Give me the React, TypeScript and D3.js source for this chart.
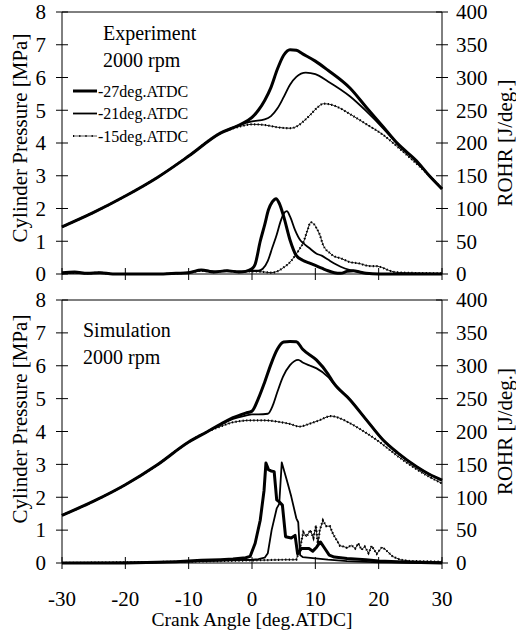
import React from 'react';
import * as d3 from 'd3';

type Pt = [number, number];

// ---- tick values / labels ----
const xTicks = [-30, -20, -10, 0, 10, 20, 30];
const pTicks = [0, 1, 2, 3, 4, 5, 6, 7, 8];
const rTicks = [0, 50, 100, 150, 200, 250, 300, 350, 400];
const legendLabels = ['-27deg.ATDC', '-21deg.ATDC', '-15deg.ATDC'];
const panelTitles = [['Experiment', '2000 rpm'], ['Simulation', '2000 rpm']];
const xTitle = 'Crank Angle [deg.ATDC]';
const yLeftTitle = 'Cylinder Pressure [MPa]';
const yRightTitle = 'ROHR [J/deg.]';

// ---- Experiment: cylinder pressure [MPa] ----
const expComp: Pt[] = [[-30, 1.44], [-25, 1.88], [-20, 2.38], [-15, 2.94], [-10, 3.6], [-5, 4.3], [-2, 4.55]];
const expP27: Pt[] = [...expComp, [0, 4.78], [1, 5.0], [2, 5.3], [3, 5.7], [4, 6.25], [5, 6.68], [6, 6.85], [7, 6.83], [8, 6.72], [10, 6.5], [12, 6.22], [15.5, 5.67], [18, 5.1], [20.7, 4.5], [23, 3.98], [26, 3.45], [28, 3.0], [30, 2.6]];
const expP21: Pt[] = [...expComp, [0, 4.66], [2, 4.72], [3, 4.82], [4, 5.05], [5, 5.4], [6, 5.78], [7, 6.02], [8.5, 6.15], [10, 6.1], [12, 5.88], [15.5, 5.42], [18, 4.98], [20.7, 4.45], [23, 3.96], [26, 3.43], [28, 3.0], [30, 2.6]];
const expP15: Pt[] = [...expComp.slice(0, 6), [-2, 4.5], [0, 4.57], [2, 4.55], [4, 4.48], [6, 4.45], [7, 4.5], [8, 4.64], [9.2, 4.86], [10.3, 5.08], [11.3, 5.2], [12.3, 5.18], [13.5, 5.1], [15.5, 4.88], [18, 4.58], [20.7, 4.25], [23, 3.88], [25, 3.54], [28, 3.0], [30, 2.6]];

// ---- Experiment: ROHR [J/deg] ----
const expR27: Pt[] = [[-30, 2], [-28, 3], [-26, 1], [-24, 2], [-22, 0], [-14, 0], [-12, 1], [-10, 2], [-8, 6], [-6, 3], [-4, 5], [-2, 3], [-1, 4], [0, 8], [0.5, 15], [1.3, 50], [2, 75], [2.6, 98], [3.2, 110], [3.8, 115], [4.3, 108], [5, 88], [6, 52], [7, 28], [8, 21], [9, 17], [10, 13], [11, 9], [12, 5], [13, 2], [14, 1], [15, 4], [16, 5], [17, 3], [18, 1], [20, 0], [30, 0]];
const expR21: Pt[] = [[-30, 1], [-28, 2], [-26, 1], [-24, 2], [-22, 0], [-14, 0], [-12, 1], [-10, 2], [-8, 6], [-6, 4], [-4, 5], [-2, 4], [0, 5], [1, 5], [1.7, 8], [2.5, 20], [3.2, 40], [3.9, 60], [4.5, 80], [5, 92], [5.5, 96], [6, 88], [6.8, 67], [7.6, 52], [8.1, 47], [9, 40], [10.2, 31], [11, 28], [12, 22], [13, 16], [14, 11], [15.5, 6], [17, 3], [18, 1], [20, 0], [30, 0]];
const expR15: Pt[] = [[-30, 1], [-28, 2], [-26, 1], [-24, 2], [-22, 0], [-14, 0], [-12, 1], [-10, 2], [-8, 5], [-6, 3], [-4, 5], [-2, 3], [0, 4], [2, 3], [3, 2], [4, 4], [5, 10], [6, 18], [6.5, 24], [7.5, 38], [8.1, 48], [8.7, 65], [9.3, 79], [9.8, 76], [10.3, 68], [10.7, 60], [11.2, 45], [11.7, 37], [12.3, 32], [12.8, 28], [14, 24], [15.5, 18], [17, 16], [18, 13], [19, 12], [19.7, 12], [20.5, 10], [21.5, 6], [22.5, 3], [24, 2], [30, 1]];

// ---- Simulation: cylinder pressure [MPa] ----
const simComp: Pt[] = [[-30, 1.45], [-25, 1.88], [-20, 2.38], [-15, 2.98], [-10, 3.68], [-7, 4.0]];
const simTail: Pt[] = [[15.5, 4.96], [18, 4.37], [20.7, 3.74], [23, 3.35], [26, 2.93], [28, 2.7], [30, 2.52]];
const simP27: Pt[] = [...simComp, [-5, 4.22], [-3, 4.42], [-1, 4.56], [0, 4.62], [1, 5.0], [2, 5.5], [3, 6.05], [4, 6.5], [5, 6.72], [6, 6.74], [7, 6.73], [8, 6.5], [10.2, 6.17], [12, 5.75], [12.8, 5.5], ...simTail];
const simP21: Pt[] = [...simComp, [-5, 4.2], [-3, 4.38], [-1, 4.48], [0, 4.52], [1, 4.52], [2.5, 4.54], [3.3, 4.8], [4, 5.2], [4.9, 5.67], [6, 6.02], [7.3, 6.18], [8, 6.1], [9.2, 6.0], [10.2, 5.92], [12, 5.66], [12.8, 5.48], ...simTail];
const simP15: Pt[] = [...simComp, [-5, 4.15], [-3, 4.28], [0, 4.34], [2, 4.34], [4, 4.3], [6, 4.23], [7.5, 4.15], [9, 4.23], [10.5, 4.33], [12.5, 4.47], [13.5, 4.43], [15, 4.3], [17, 4.08], [20, 3.7], [23, 3.25], [26, 2.85], [28, 2.62], [30, 2.42]];

// ---- Simulation: ROHR [J/deg] ----
const simR27: Pt[] = [[-30, 0], [-20, 0], [-15, 1], [-12, 2], [-10, 3], [-8, 4], [-5, 5], [-3, 6], [-1, 8], [-0.3, 10], [0.5, 30], [1.3, 65], [1.9, 110], [2.2, 152], [2.6, 142], [3.0, 140], [3.5, 139], [3.9, 96], [4.3, 93], [4.8, 88], [5.3, 40], [6.2, 38], [6.8, 42], [7.2, 14], [7.8, 22], [9, 22], [9.6, 18], [10.2, 24], [10.8, 32], [11.5, 22], [12.2, 12], [13, 9], [15, 7], [18, 5], [20, 3], [25, 1], [30, 0]];
const simR21: Pt[] = [[-30, 0], [-15, 1], [-10, 2], [-5, 4], [0, 5], [1, 6], [2, 8], [2.5, 15], [3.1, 50], [3.9, 83], [4.3, 90], [4.7, 153], [5.5, 126], [6.2, 101], [7.0, 68], [7.3, 62], [7.6, 12], [8, 9], [10, 7], [12, 5], [15, 3], [20, 1], [30, 0]];
const simR15: Pt[] = [[-30, 0], [-10, 2], [0, 4], [5, 5], [7, 5], [7.6, 23], [8.1, 47], [8.6, 40], [9.2, 50], [9.7, 38], [10.1, 57], [10.4, 27], [10.7, 50], [11.2, 65], [11.7, 56], [12.3, 56], [12.8, 44], [13.3, 36], [13.9, 26], [14.5, 25], [15, 23], [15.7, 27], [16.3, 22], [16.8, 30], [17.3, 20], [17.8, 25], [18.4, 15], [18.9, 26], [19.7, 14], [20.5, 24], [21, 21], [22.2, 10], [23.4, 5], [25, 3], [30, 2]];

const W = 516;
const H = 633;
const FONT = '"Liberation Serif", "Times New Roman", Tinos, serif';
const x = d3.scaleLinear().domain([-30, 30]).range([62, 442]);

type Panel = {
  top: number;
  bottom: number;
  p: Pt[][];
  r: Pt[][];
  smoothR: boolean;
  titles: string[];
  titleX: number;
  titleY: number[];
  showLegend: boolean;
  showXLabels: boolean;
  leftTitleY: number;
};

const panels: Panel[] = [
  { top: 12, bottom: 274, p: [expP27, expP21, expP15], r: [expR27, expR21, expR15], smoothR: true, titles: panelTitles[0], titleX: 103, titleY: [40, 67], showLegend: true, showXLabels: false, leftTitleY: 138 },
  { top: 300, bottom: 563, p: [simP27, simP21, simP15], r: [simR27, simR21, simR15], smoothR: false, titles: panelTitles[1], titleX: 83, titleY: [337, 364], showLegend: false, showXLabels: true, leftTitleY: 419 },
];

const widths = [3, 1.8, 0.9];

function SeriesPath({ d, idx }: { d: string; idx: number }) {
  if (idx < 2) {
    return <path d={d} fill="none" stroke="#000" strokeWidth={widths[idx]} strokeLinejoin="round" />;
  }
  return (
    <g>
      <path d={d} fill="none" stroke="#000" strokeWidth={0.9} />
      <path d={d} fill="none" stroke="#000" strokeWidth={2.2} strokeDasharray="1.2 2.4" />
    </g>
  );
}

function PanelView({ pn }: { pn: Panel }) {
  const yP = d3.scaleLinear().domain([0, 8]).range([pn.bottom, pn.top]);
  const yR = d3.scaleLinear().domain([0, 400]).range([pn.bottom, pn.top]);
  const lineP = d3.line<Pt>().x(d => x(d[0])).y(d => yP(d[1])).curve(d3.curveMonotoneX);
  const lineR = d3.line<Pt>().x(d => x(d[0])).y(d => yR(d[1])).curve(pn.smoothR ? d3.curveMonotoneX : d3.curveLinear);
  const cy = (pn.top + pn.bottom) / 2;
  return (
    <g>
      <line x1={x(-30)} x2={x(30)} y1={pn.top} y2={pn.top} stroke="#000" strokeWidth={1} />
      <line x1={x(-30)} x2={x(-30)} y1={pn.top} y2={pn.bottom} stroke="#000" strokeWidth={1} />
      <line x1={x(30)} x2={x(30)} y1={pn.top} y2={pn.bottom} stroke="#000" strokeWidth={1} />
      <line x1={x(-30)} x2={x(30)} y1={pn.bottom} y2={pn.bottom} stroke="#000" strokeWidth={1} />
      {pTicks.map(t => (
        <g key={'pl' + t}>
          <line x1={x(-30) - 6} x2={x(-30) + 6} y1={yP(t)} y2={yP(t)} stroke="#000" strokeWidth={1} />
          <text x={46} y={yP(t)} dy="0.35em" textAnchor="end" fontSize={21}>{t}</text>
        </g>
      ))}
      {rTicks.map(t => (
        <g key={'rr' + t}>
          <line x1={x(30) - 6} x2={x(30) + 6} y1={yR(t)} y2={yR(t)} stroke="#000" strokeWidth={1} />
          <text x={456} y={yR(t)} dy="0.35em" textAnchor="start" fontSize={21}>{t}</text>
        </g>
      ))}
      {xTicks.map(t => (
        <g key={'x' + t}>
          <line x1={x(t)} x2={x(t)} y1={pn.bottom - 6} y2={pn.bottom + 6} stroke="#000" strokeWidth={1} />
          {pn.showXLabels && (
            <text x={x(t)} y={606} textAnchor="middle" fontSize={21}>{t}</text>
          )}
        </g>
      ))}
      {pn.p.map((s, i) => <SeriesPath key={'p' + i} d={lineP(s) || ''} idx={i} />)}
      {pn.r.map((s, i) => <SeriesPath key={'r' + i} d={lineR(s) || ''} idx={i} />)}
      {pn.titles.map((t, i) => (
        <text key={'t' + i} x={pn.titleX} y={pn.titleY[i]} fontSize={20}>{t}</text>
      ))}
      <text transform={`translate(27,${pn.leftTitleY}) rotate(-90)`} textAnchor="middle" fontSize={21}>{yLeftTitle}</text>
      <text transform={`translate(512,${cy}) rotate(-90)`} textAnchor="middle" fontSize={21}>{yRightTitle}</text>
      {pn.showLegend && legendLabels.map((l, i) => {
        const ly = 91 + i * 22.5;
        return (
          <g key={'lg' + i}>
            {i < 2 ? (
              <line x1={73} x2={97} y1={ly} y2={ly} stroke="#000" strokeWidth={widths[i]} />
            ) : (
              <g>
                <line x1={73} x2={97} y1={ly} y2={ly} stroke="#555" strokeWidth={1} />
                <line x1={73} x2={97} y1={ly} y2={ly} stroke="#000" strokeWidth={2.2} strokeDasharray="1.2 5" />
              </g>
            )}
            <text x={98} y={ly} dy="0.35em" fontSize={16}>{l}</text>
          </g>
        );
      })}
    </g>
  );
}

export default function App() {
  return (
    <svg width={W} height={H} style={{ position: 'absolute', left: 0, top: 0, background: '#fff', fontFamily: FONT }}>
      <rect x={0} y={0} width={W} height={H} fill="#fff" />
      {panels.map((pn, i) => <PanelView key={i} pn={pn} />)}
      <text x={252} y={626} textAnchor="middle" fontSize={19.5}>{xTitle}</text>
    </svg>
  );
}
